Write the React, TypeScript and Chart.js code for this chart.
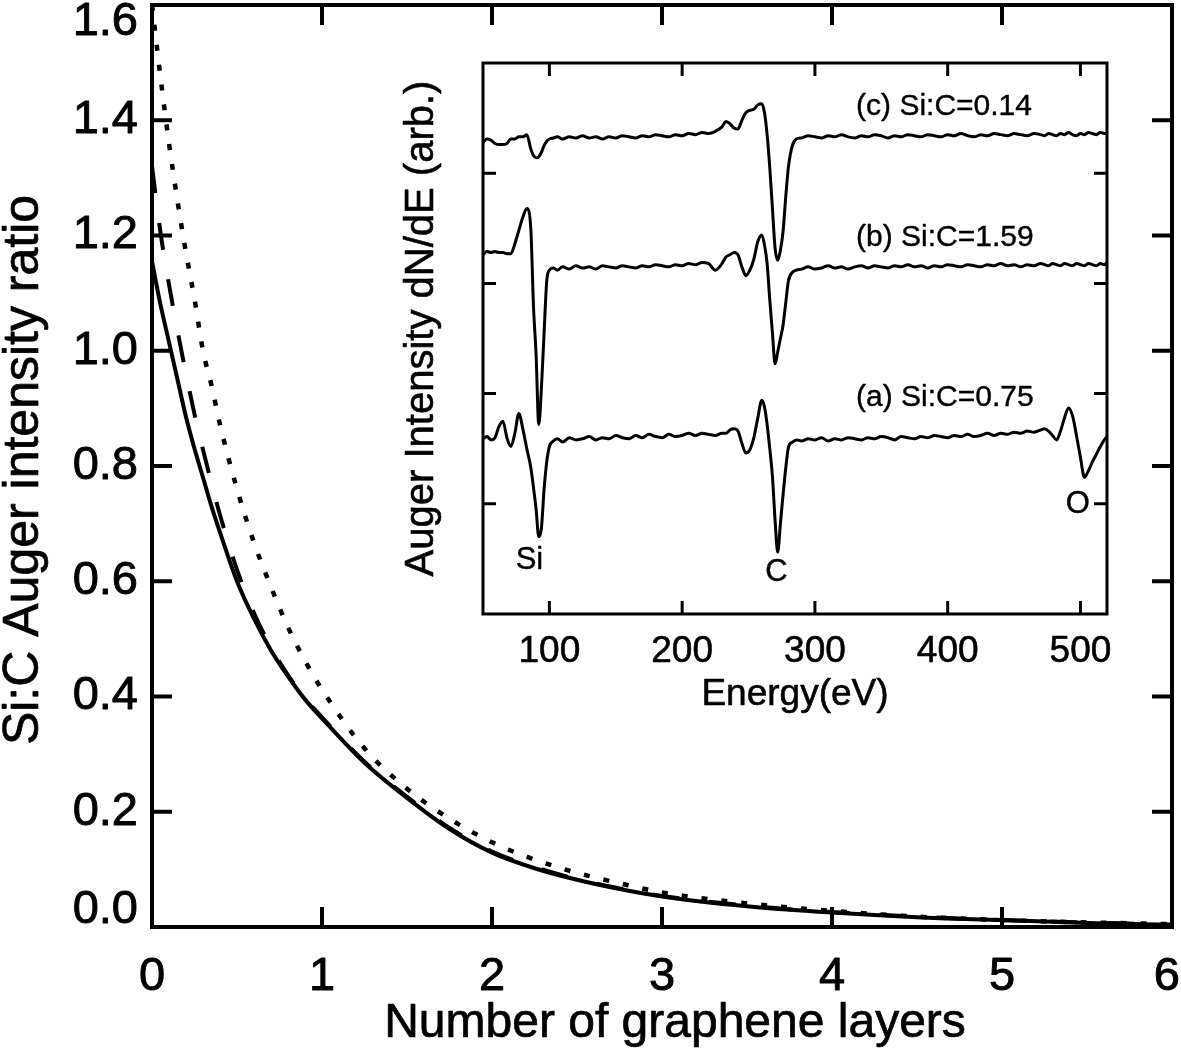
import { useEffect, useRef } from "react";
import { Chart, registerables } from "chart.js";

Chart.register(...registerables);

const FONT = '"Liberation Sans", Arial, Helvetica, sans-serif';

// main plot: Si:C ratio vs number of graphene layers
const layers = [
  0, 0.05, 0.1, 0.15, 0.2, 0.25, 0.3, 0.35, 0.4, 0.5, 0.6, 0.7, 0.8, 0.9, 1.0,
  1.25, 1.5, 1.75, 2.0, 2.25, 2.5, 2.75, 3.0, 3.5, 4.0, 4.5, 5.0, 5.5, 6.0,
];
const ratioSolid = [
  1.155, 1.08, 1.015, 0.95, 0.885, 0.83, 0.78, 0.73, 0.685, 0.6, 0.535, 0.48,
  0.435, 0.395, 0.362, 0.285, 0.224, 0.17, 0.129, 0.102, 0.082, 0.066, 0.053,
  0.036, 0.025, 0.017, 0.012, 0.007, 0.004,
];
const ratioDashed = [
  1.32, 1.205, 1.115, 1.035, 0.96, 0.89, 0.828, 0.77, 0.715, 0.62, 0.545,
  0.485, 0.437, 0.397, 0.364, 0.287, 0.226, 0.172, 0.131, 0.104, 0.083, 0.067,
  0.054, 0.037, 0.026, 0.018, 0.012, 0.008, 0.004,
];
const ratioDotted = [
  1.6, 1.475, 1.36, 1.26, 1.17, 1.09, 1.0, 0.94, 0.872, 0.76, 0.667, 0.59,
  0.52, 0.462, 0.412, 0.31, 0.24, 0.188, 0.147, 0.117, 0.094, 0.076, 0.06,
  0.041, 0.028, 0.018, 0.012, 0.008, 0.005,
];
const layerTicks = [0, 1, 2, 3, 4, 5, 6];
const ratioTicks = [0, 0.2, 0.4, 0.6, 0.8, 1.0, 1.2, 1.4, 1.6];

// inset: Auger spectra
const energy = [
  50, 53, 56, 59, 62, 65, 68, 71, 74, 77, 80, 83, 86,
  88, 90, 92, 94, 96, 98, 100,
  103, 106,
  110, 115, 120, 125, 130, 135, 140, 145, 150, 155, 160, 165, 170, 175, 180,
  185, 190, 195, 200, 205, 210, 215, 220, 225, 230,
  233, 236, 239, 242, 245, 248, 251, 254, 257, 260,
  262, 264, 266, 268, 270, 272, 274, 276, 278, 280,
  283, 286,
  290, 295, 300, 305, 310, 315, 320, 325, 330, 335, 340, 345, 350, 355, 360,
  365, 370, 375, 380, 385, 390, 395, 400, 405, 410, 415, 420, 425, 430, 435,
  440, 445, 450, 455, 460, 465, 470,
  473, 476, 479, 482, 485, 488, 491, 494, 497, 500, 503, 506, 509, 512, 515, 518,
  520,
];
const spectrumA = [
  1.59, 1.61, 1.58, 1.6, 1.7, 1.75, 1.6, 1.52, 1.64, 1.82, 1.68, 1.5, 1.33,
  1.15, 0.95, 0.7, 0.78, 1.13, 1.38, 1.52,
  1.57, 1.59,
  1.56, 1.6, 1.58, 1.59, 1.61, 1.58, 1.6, 1.59, 1.62, 1.6, 1.59, 1.62, 1.6,
  1.63, 1.61, 1.6, 1.63, 1.61, 1.62, 1.64, 1.62, 1.64, 1.63, 1.62, 1.64,
  1.64, 1.67, 1.68, 1.66, 1.55, 1.46, 1.49, 1.6, 1.78, 1.94,
  1.88, 1.72, 1.5, 1.25, 0.85, 0.56, 0.82, 1.08, 1.32, 1.51,
  1.56, 1.58,
  1.57, 1.59, 1.58, 1.6, 1.57, 1.59, 1.58, 1.6, 1.59, 1.58,
  1.6, 1.59, 1.61, 1.6, 1.58, 1.61, 1.6, 1.59, 1.61, 1.6,
  1.62, 1.61, 1.6, 1.62, 1.61, 1.63, 1.61, 1.62, 1.64, 1.62,
  1.64, 1.63, 1.65, 1.64, 1.66, 1.65, 1.67,
  1.68, 1.66, 1.62, 1.58, 1.66, 1.78, 1.87, 1.8, 1.62, 1.42, 1.24, 1.3, 1.38,
  1.45, 1.52, 1.58,
  1.61,
];
const spectrumB = [
  3.26, 3.29, 3.28, 3.29, 3.28, 3.28, 3.27, 3.27, 3.36, 3.48, 3.6, 3.68, 3.5,
  2.8, 2.35, 1.72, 2.05, 2.55, 3.02, 3.12,
  3.14, 3.12,
  3.15, 3.13, 3.16, 3.14, 3.15, 3.13, 3.16, 3.15, 3.14, 3.16, 3.15, 3.14,
  3.16, 3.15, 3.17, 3.16, 3.15, 3.17, 3.16, 3.18, 3.17, 3.19, 3.18, 3.12, 3.18,
  3.24, 3.26, 3.28, 3.26, 3.15, 3.07, 3.12, 3.22, 3.38, 3.44,
  3.35, 3.18, 2.85, 2.55, 2.27, 2.38, 2.5, 2.62, 2.82, 3.02,
  3.1, 3.12,
  3.13, 3.15, 3.13, 3.14, 3.16, 3.14, 3.15, 3.13, 3.15, 3.16,
  3.14, 3.16, 3.15, 3.14, 3.16, 3.15, 3.17, 3.15, 3.16, 3.14,
  3.16, 3.15, 3.17, 3.16, 3.15, 3.17, 3.16, 3.15, 3.17, 3.16,
  3.18, 3.16, 3.17, 3.15, 3.17, 3.16, 3.18,
  3.17, 3.16, 3.18, 3.17, 3.16, 3.18, 3.17, 3.16, 3.18, 3.17, 3.16, 3.18,
  3.17, 3.16, 3.18, 3.17,
  3.19,
];
const spectrumC = [
  4.28, 4.31, 4.3, 4.27, 4.26, 4.26, 4.27, 4.31, 4.31, 4.33, 4.33, 4.35, 4.22,
  4.16, 4.14, 4.15, 4.19, 4.25, 4.29, 4.31,
  4.32, 4.33,
  4.31, 4.33, 4.32, 4.34, 4.32, 4.33, 4.31, 4.33, 4.32, 4.34, 4.33, 4.32,
  4.34, 4.33, 4.35, 4.34, 4.33, 4.35, 4.34, 4.36, 4.35, 4.37, 4.36, 4.38, 4.42,
  4.47, 4.45, 4.41, 4.4, 4.48, 4.55, 4.57, 4.58, 4.62, 4.63,
  4.55, 4.35, 4.05, 3.68, 3.32, 3.21, 3.3, 3.47, 3.78, 4.05,
  4.25, 4.31,
  4.32, 4.34, 4.33, 4.32, 4.34, 4.33, 4.35, 4.33, 4.32, 4.34,
  4.33, 4.35, 4.34, 4.32, 4.34, 4.33, 4.35, 4.34, 4.33, 4.35,
  4.34, 4.33, 4.35, 4.34, 4.36, 4.34, 4.33, 4.35, 4.34, 4.36,
  4.35, 4.34, 4.36, 4.35, 4.34, 4.36, 4.35,
  4.34, 4.36, 4.35, 4.34, 4.36, 4.35, 4.37, 4.35, 4.34, 4.36, 4.35, 4.37,
  4.36, 4.35, 4.37, 4.36,
  4.36,
];
const energyTicks = [100, 200, 300, 400, 500];
const intensityTicks = [0, 1, 2, 3, 4, 5];

const spectrumNotes = [
  { text: "(c) Si:C=0.14", e: 331, v: 4.6, align: "left", size: 30 },
  { text: "(b) Si:C=1.59", e: 331, v: 3.41, align: "left", size: 30 },
  { text: "(a) Si:C=0.75", e: 331, v: 1.96, align: "left", size: 30 },
  { text: "Si", e: 85, v: 0.49, align: "center", size: 31 },
  { text: "C", e: 271, v: 0.38, align: "center", size: 31 },
  { text: "O", e: 498, v: 0.99, align: "center", size: 31 },
];

function pts(xs: number[], ys: number[]) {
  return xs.map((x, i) => ({ x, y: ys[i] }));
}

function drawFrame(
  chart: any,
  xTicks: number[],
  yTicks: number[],
  frameWidth: number,
  tickLen: number,
) {
  const { ctx, chartArea: a } = chart;
  const xs = chart.scales.x;
  const ys = chart.scales.y;
  ctx.save();
  ctx.strokeStyle = "#000";
  ctx.lineWidth = frameWidth;
  ctx.strokeRect(a.left, a.top, a.right - a.left, a.bottom - a.top);
  ctx.beginPath();
  for (const v of xTicks) {
    const px = xs.getPixelForValue(v);
    if (px <= a.left + 2 || px >= a.right - 2) continue;
    ctx.moveTo(px, a.bottom);
    ctx.lineTo(px, a.bottom - tickLen);
    ctx.moveTo(px, a.top);
    ctx.lineTo(px, a.top + tickLen);
  }
  for (const v of yTicks) {
    const py = ys.getPixelForValue(v);
    if (py <= a.top + 2 || py >= a.bottom - 2) continue;
    ctx.moveTo(a.left, py);
    ctx.lineTo(a.left + tickLen, py);
    ctx.moveTo(a.right, py);
    ctx.lineTo(a.right - tickLen, py);
  }
  ctx.stroke();
  ctx.restore();
}

// text a touch heavier, like the original figure
function heavyText(ctx: any, text: string, x: number, y: number, w: number) {
  ctx.lineWidth = w;
  ctx.strokeText(text, x, y);
  ctx.fillText(text, x, y);
}

const mainAxes = {
  id: "mainAxes",
  afterDatasetsDraw(chart: any) {
    drawFrame(chart, layerTicks, ratioTicks, 4, 20);
    const { ctx, chartArea: a, width } = chart;
    const xs = chart.scales.x;
    const ys = chart.scales.y;
    ctx.save();
    ctx.fillStyle = "#000";
    ctx.strokeStyle = "#000";
    ctx.lineJoin = "round";
    ctx.font = `47px ${FONT}`;
    ctx.textAlign = "right";
    ctx.textBaseline = "middle";
    for (const v of ratioTicks) {
      let py = ys.getPixelForValue(v);
      py = Math.min(Math.max(py, a.top + 17), a.bottom - 17);
      heavyText(ctx, v.toFixed(1), a.left - 14, py, 0.9);
    }
    ctx.textAlign = "center";
    ctx.textBaseline = "alphabetic";
    for (const v of layerTicks) {
      const label = String(v);
      const half = ctx.measureText(label).width / 2;
      let px = xs.getPixelForValue(v);
      px = Math.min(px, width - half - 1);
      heavyText(ctx, label, px, a.bottom + 63, 0.9);
    }
    ctx.font = `48px ${FONT}`;
    heavyText(ctx, "Number of graphene layers", (a.left + a.right) / 2 + 13, a.bottom + 110, 0.7);
    ctx.font = `50px ${FONT}`;
    ctx.translate(38, (a.top + a.bottom) / 2 + 4);
    ctx.rotate(-Math.PI / 2);
    heavyText(ctx, "Si:C Auger intensity ratio", 0, 0, 0.7);
    ctx.restore();
  },
};

const insetAxes = {
  id: "insetAxes",
  afterDatasetsDraw(chart: any) {
    drawFrame(chart, energyTicks, intensityTicks, 3, 13);
    const { ctx, chartArea: a } = chart;
    const xs = chart.scales.x;
    const ys = chart.scales.y;
    ctx.save();
    ctx.fillStyle = "#000";
    ctx.strokeStyle = "#000";
    ctx.lineJoin = "round";
    ctx.font = `37px ${FONT}`;
    ctx.textAlign = "center";
    ctx.textBaseline = "alphabetic";
    for (const v of energyTicks) {
      heavyText(ctx, String(v), xs.getPixelForValue(v), a.bottom + 48, 0.6);
    }
    heavyText(ctx, "Energy(eV)", (a.left + a.right) / 2, a.bottom + 91, 0.6);
    for (const n of spectrumNotes) {
      ctx.font = `${n.size}px ${FONT}`;
      ctx.textAlign = n.align;
      ctx.textBaseline = "middle";
      heavyText(ctx, n.text, xs.getPixelForValue(n.e), ys.getPixelForValue(n.v), 0.4);
    }
    ctx.font = `40px ${FONT}`;
    ctx.textAlign = "center";
    ctx.textBaseline = "alphabetic";
    ctx.translate(a.left - 50, (a.top + a.bottom) / 2 - 10);
    ctx.rotate(-Math.PI / 2);
    heavyText(ctx, "Auger Intensity dN/dE (arb.)", 0, 0, 0.6);
    ctx.restore();
  },
};

export default function App() {
  const mainRef = useRef<HTMLCanvasElement>(null);
  const insetRef = useRef<HTMLCanvasElement>(null);

  useEffect(() => {
    if (!mainRef.current || !insetRef.current) return;

    const curve = {
      borderColor: "#000",
      pointRadius: 0,
      fill: false,
      cubicInterpolationMode: "monotone" as const,
    };

    const main = new Chart(mainRef.current, {
      type: "line",
      data: {
        datasets: [
          { ...curve, data: pts(layers, ratioDotted), borderWidth: 4.5, borderDash: [6, 14] },
          { ...curve, data: pts(layers, ratioDashed), borderWidth: 4, borderDash: [27, 30] },
          { ...curve, data: pts(layers, ratioSolid), borderWidth: 4 },
        ],
      },
      options: {
        animation: false,
        responsive: true,
        maintainAspectRatio: false,
        events: [],
        layout: { padding: { left: 152, top: 5, right: 9, bottom: 131 } },
        plugins: { legend: { display: false }, tooltip: { enabled: false } },
        scales: {
          x: { type: "linear", min: 0, max: 6, display: false, ticks: { stepSize: 1 } },
          y: { type: "linear", min: 0, max: 1.6, display: false, ticks: { stepSize: 0.2 } },
        },
      },
      plugins: [mainAxes],
    });

    const spectrum = {
      borderColor: "#000",
      borderWidth: 3,
      pointRadius: 0,
      fill: false,
      cubicInterpolationMode: "monotone" as const,
    };

    const inset = new Chart(insetRef.current, {
      type: "line",
      data: {
        datasets: [
          { ...spectrum, data: pts(energy, spectrumC) },
          { ...spectrum, data: pts(energy, spectrumB) },
          { ...spectrum, data: pts(energy, spectrumA) },
        ],
      },
      options: {
        animation: false,
        responsive: true,
        maintainAspectRatio: false,
        events: [],
        layout: { padding: { left: 88, top: 8, right: 8, bottom: 106 } },
        plugins: { legend: { display: false }, tooltip: { enabled: false } },
        scales: {
          x: { type: "linear", min: 50, max: 520, display: false, ticks: { stepSize: 100 } },
          y: { type: "linear", min: 0, max: 5, display: false, ticks: { stepSize: 1 } },
        },
      },
      plugins: [insetAxes],
    });

    return () => {
      main.destroy();
      inset.destroy();
    };
  }, []);

  return (
    <div
      style={{
        position: "fixed",
        left: 0,
        top: 0,
        width: 1181,
        height: 1058,
        background: "#fff",
        overflow: "hidden",
      }}
    >
      <div style={{ position: "absolute", left: 0, top: 0, width: 1181, height: 1058 }}>
        <canvas ref={mainRef} />
      </div>
      <div style={{ position: "absolute", left: 395, top: 55, width: 720, height: 665 }}>
        <canvas ref={insetRef} />
      </div>
    </div>
  );
}
